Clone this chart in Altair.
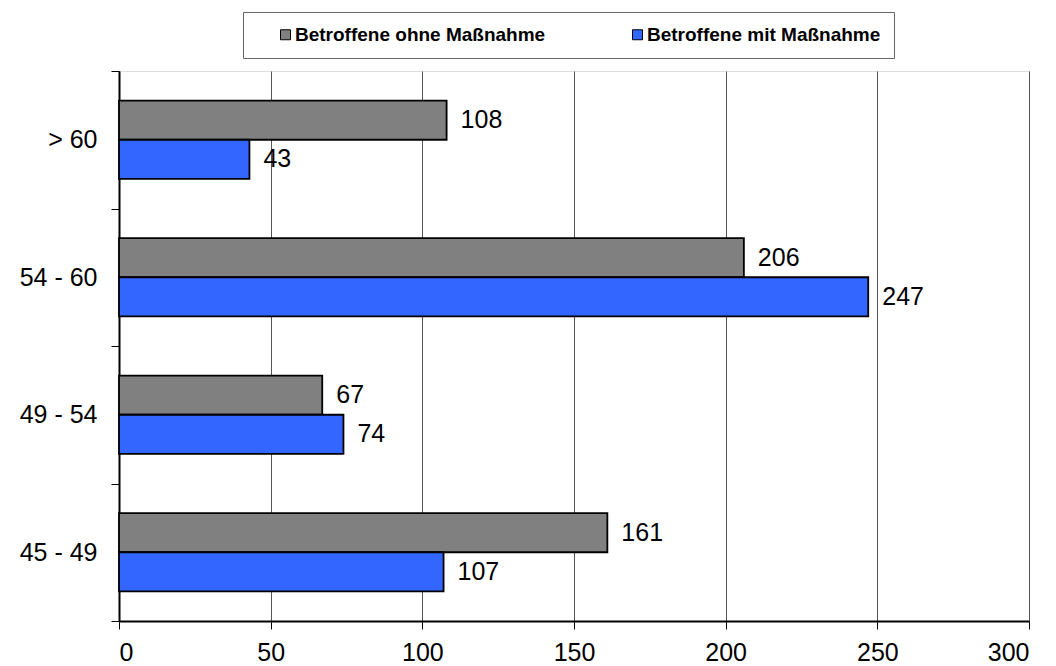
import altair as alt
import pandas as pd

# Age groups, top to bottom
groups = ["> 60", "54 - 60", "49 - 54", "45 - 49"]
series = ["Betroffene ohne Maßnahme", "Betroffene mit Maßnahme"]
ohne = [108, 206, 67, 161]
mit = [43, 247, 74, 107]
colors = ["#808080", "#3366FF"]

rows = []
for g, a, b in zip(groups, ohne, mit):
    rows.append({"Gruppe": g, "Serie": series[0], "Wert": a})
    rows.append({"Gruppe": g, "Serie": series[1], "Wert": b})
df = pd.DataFrame(rows)

FONT = "Liberation Sans"

y_enc = alt.Y(
    "Gruppe:N",
    sort=groups,
    title=None,
    scale=alt.Scale(paddingInner=0, paddingOuter=0),
    axis=alt.Axis(
        tickBand="extent",
        tickSize=8,
        tickColor="black",
        tickWidth=1,
        domainColor="black",
        domainWidth=2,
        labelFont=FONT,
        labelFontSize=25,
        labelColor="black",
        labelPadding=14,
        grid=False,
    ),
)
yoff_enc = alt.YOffset(
    "Serie:N",
    sort=series,
    scale=alt.Scale(paddingInner=0, paddingOuter=0.76),
)
x_enc = alt.X(
    "Wert:Q",
    title=None,
    scale=alt.Scale(domain=[0, 300], nice=False),
    axis=alt.Axis(
        values=[0, 50, 100, 150, 200, 250, 300],
        tickSize=8,
        tickColor="black",
        tickWidth=1,
        domainColor="black",
        domainWidth=2,
        grid=True,
        gridColor="#555555",
        gridWidth=1,
        labelFont=FONT,
        labelFontSize=25,
        labelColor="black",
        labelPadding=11,
    ),
)

base = alt.Chart(df)

bars = base.mark_bar(stroke="black", strokeWidth=1.8).encode(
    x=x_enc,
    y=y_enc,
    yOffset=yoff_enc,
    color=alt.Color(
        "Serie:N",
        sort=series,
        scale=alt.Scale(domain=series, range=colors),
        legend=alt.Legend(
            title=None,
            orient="none",
            legendX=124,
            legendY=-59,
            direction="horizontal",
            columnPadding=62,
            padding=13,
            symbolOffset=20,
            strokeColor="#666666",
            fillColor="white",
            symbolType="square",
            symbolSize=100,
            symbolStrokeColor="black",
            symbolStrokeWidth=1,
            labelFont=FONT,
            labelFontSize=19,
            labelFontWeight="bold",
            labelColor="black",
            labelOffset=0,
            labelLimit=400,
        ),
    ),
)

labels = base.mark_text(
    align="left", baseline="middle", dx=14, font=FONT, fontSize=25, color="black"
).encode(
    x="Wert:Q",
    y=alt.Y("Gruppe:N", sort=groups),
    yOffset=alt.YOffset("Serie:N", sort=series),
    text="Wert:Q",
)

chart = (
    alt.layer(bars, labels)
    .properties(
        width=910,
        height=550,
        autosize=alt.AutoSizeParams(type="none"),
        padding={"left": 119, "top": 71, "right": 27, "bottom": 45},
    )
    .configure_view(stroke="black", strokeWidth=1.5)
    .configure(background="white")
)

chart.save("out.html", embed_options={"renderer": "svg", "actions": False})
